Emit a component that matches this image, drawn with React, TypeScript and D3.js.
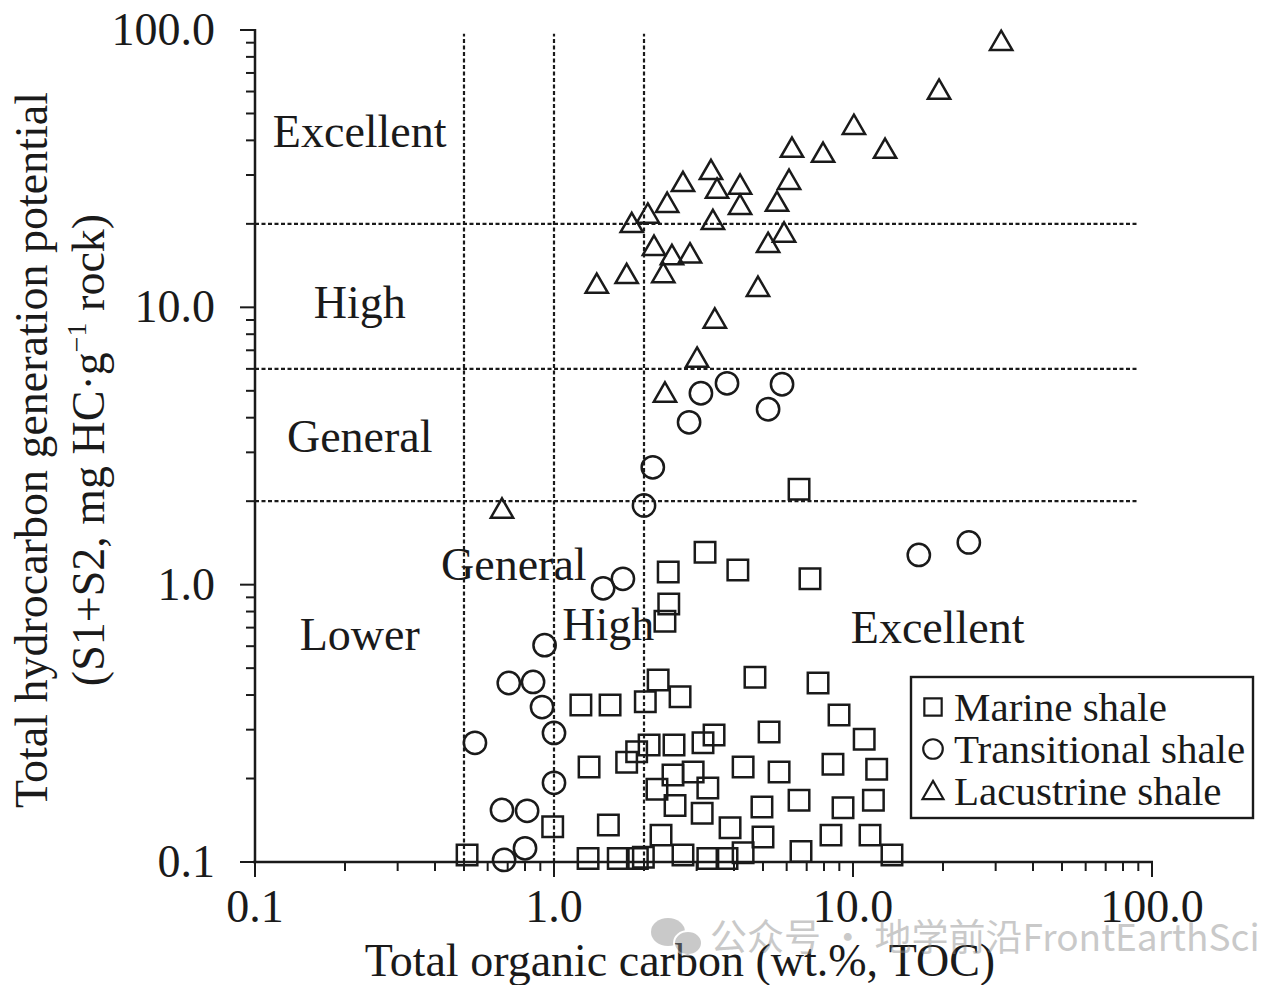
import React from 'react';
import * as d3 from 'd3';

const W = 1264;
const H = 985;
const serif = '"Liberation Serif", "Times New Roman", serif';

// [TOC wt.%, S1+S2 mg HC/g rock]
const marine = [
  [6.6, 2.21], [3.2, 1.31], [2.41, 1.11], [4.12, 1.13], [7.18, 1.05],
  [2.42, 0.851], [2.35, 0.738], [2.23, 0.453], [2.64, 0.394], [2.02, 0.378],
  [4.7, 0.464], [7.64, 0.442], [8.98, 0.339], [5.24, 0.294], [3.43, 0.287],
  [10.9, 0.277], [2.08, 0.264], [2.52, 0.264], [3.15, 0.269], [2.92, 0.211],
  [2.5, 0.206], [4.29, 0.22], [5.66, 0.211], [8.57, 0.225], [12.0, 0.216],
  [2.21, 0.183], [3.27, 0.185], [2.54, 0.16], [3.13, 0.15], [4.96, 0.158],
  [6.6, 0.167], [9.26, 0.157], [11.7, 0.167], [3.88, 0.133], [5.0, 0.123],
  [8.44, 0.125], [11.4, 0.125], [2.28, 0.125], [2.7, 0.106], [3.27, 0.103],
  [3.79, 0.103], [4.29, 0.108], [6.7, 0.109], [13.5, 0.106], [1.99, 0.104],
  [1.23, 0.368], [1.54, 0.368], [1.31, 0.22], [1.75, 0.229], [1.89, 0.25],
  [0.99, 0.134], [1.52, 0.136], [0.512, 0.106], [1.3, 0.103], [1.64, 0.103],
  [1.9, 0.103],
];

const transitional = [
  [3.1, 4.9], [3.79, 5.32], [5.79, 5.28], [5.2, 4.29], [2.83, 3.85],
  [2.14, 2.65], [2.0, 1.93], [16.6, 1.28], [24.4, 1.42], [1.46, 0.97],
  [1.7, 1.05], [0.93, 0.605], [0.706, 0.442], [0.851, 0.446], [0.912, 0.362],
  [1.0, 0.292], [0.544, 0.269], [1.0, 0.193], [0.67, 0.154], [0.813, 0.153],
  [0.8, 0.112], [0.681, 0.1017],
];

const lacustrine = [
  [31.3, 89.4], [19.4, 59.6], [10.07, 44.5], [6.25, 36.8], [7.94, 35.3],
  [12.8, 36.5], [3.35, 30.6], [2.7, 27.7], [3.51, 26.2], [4.19, 27.1],
  [6.11, 28.2], [2.39, 23.3], [4.19, 22.9], [5.57, 23.5], [2.06, 21.3],
  [1.82, 19.7], [3.4, 20.2], [5.88, 18.2], [5.2, 16.7], [2.16, 16.3],
  [2.48, 15.1], [2.85, 15.3], [2.32, 13.0], [1.75, 12.9], [1.39, 11.9],
  [4.81, 11.6], [3.45, 8.91], [3.01, 6.44], [2.35, 4.82], [0.67, 1.84],
];

const tocCuts = [0.5, 1.0, 2.0];
const s12Cuts = [2, 6, 20];
const majorValues = [0.1, 1, 10, 100];
const xTickLabels = ['0.1', '1.0', '10.0', '100.0'];
const yTickLabels = ['0.1', '1.0', '10.0', '100.0'];

const zoneLabels = [
  { text: 'Excellent', toc: 0.224, s: 38.0 },
  { text: 'High', toc: 0.224, s: 9.12 },
  { text: 'General', toc: 0.224, s: 3.0 },
  { text: 'Lower', toc: 0.224, s: 0.581 },
  { text: 'General', toc: 0.734, s: 1.04 },
  { text: 'High', toc: 1.52, s: 0.631 },
  { text: 'Excellent', toc: 19.2, s: 0.615 },
];

const legendItems = ['Marine shale', 'Transitional shale', 'Lacustrine shale'];

export default function App() {
  const x = d3.scaleLog().domain([0.1, 100]).range([255, 1152]);
  const y = d3.scaleLog().domain([0.1, 100]).range([862, 30]);

  const isMajor = (t: number) => Math.abs(Math.log10(t) - Math.round(Math.log10(t))) < 1e-9;

  const sq = d3.symbol().type(d3.symbolSquare).size(420)();
  const circ = d3.symbol().type(d3.symbolCircle).size(390)();
  const tri = d3.symbol().type(d3.symbolTriangle).size(215)();
  const sqL = d3.symbol().type(d3.symbolSquare).size(300)();
  const circL = d3.symbol().type(d3.symbolCircle).size(300)();
  const triL = d3.symbol().type(d3.symbolTriangle).size(190)();

  const ink = '#1a1a1a';
  const dash = '4 2.5';

  const series = [
    { data: marine, path: sq },
    { data: transitional, path: circ },
    { data: lacustrine, path: tri },
  ];
  const legendPaths = [sqL, circL, triL];

  return (
    <svg width={W} height={H} style={{ position: 'absolute', left: 0, top: 0, background: '#fff' }}
      fontFamily={serif}>
      {/* guide lines */}
      {tocCuts.map((c) => (
        <line key={'v' + c} x1={x(c)} x2={x(c)} y1={y(0.1)} y2={y(97)}
          stroke={ink} strokeWidth={2.2} strokeDasharray={dash} />
      ))}
      {s12Cuts.map((c) => (
        <line key={'h' + c} x1={x(0.1)} x2={x(90)} y1={y(c)} y2={y(c)}
          stroke={ink} strokeWidth={2.2} strokeDasharray={dash} />
      ))}

      {/* zone labels */}
      {zoneLabels.map((z, i) => (
        <text key={i} x={x(z.toc)} y={y(z.s)} textAnchor="middle" fontSize={46} fill={ink}>{z.text}</text>
      ))}

      {/* points */}
      {series.map((s, si) => (
        <g key={si}>
          {s.data.map((d, i) => (
            <path key={i} d={s.path as string} transform={`translate(${x(d[0])},${y(d[1])})`}
              fill="none" stroke={ink} strokeWidth={2.5} />
          ))}
        </g>
      ))}

      {/* axes */}
      <line x1={x(0.1) - 2} x2={x(100) + 1} y1={y(0.1)} y2={y(0.1)} stroke={ink} strokeWidth={2.5} />
      <line x1={x(0.1)} x2={x(0.1)} y1={y(0.1) + 1} y2={y(100) - 1} stroke={ink} strokeWidth={2.5} />
      {x.ticks().map((t, i) => (
        <line key={'xt' + i} x1={x(t)} x2={x(t)} y1={y(0.1)} y2={y(0.1) + (isMajor(t) ? 15 : 9)}
          stroke={ink} strokeWidth={2} />
      ))}
      {y.ticks().map((t, i) => (
        <line key={'yt' + i} y1={y(t)} y2={y(t)} x1={x(0.1)} x2={x(0.1) - (isMajor(t) ? 15 : 9)}
          stroke={ink} strokeWidth={2} />
      ))}
      {majorValues.map((v, i) => (
        <text key={'xl' + i} x={x(v)} y={y(0.1) + 60} textAnchor="middle" fontSize={46} fill={ink}>{xTickLabels[i]}</text>
      ))}
      {majorValues.map((v, i) => (
        <text key={'yl' + i} x={x(0.1) - 40} y={y(v) + 15} textAnchor="end" fontSize={46} fill={ink}>{yTickLabels[i]}</text>
      ))}

      {/* axis titles */}
      <text x={680} y={976} textAnchor="middle" fontSize={46} fill={ink}>Total organic carbon (wt.%, TOC)</text>
      <text transform="translate(47,450) rotate(-90)" textAnchor="middle" fontSize={46} fill={ink}>
        Total hydrocarbon generation potential
      </text>
      <text transform="translate(104,450) rotate(-90)" textAnchor="middle" fontSize={46} fill={ink}>
        (S1+S2, mg HC·g<tspan fontSize={28} dy={-18}>−1</tspan><tspan dy={18}> rock)</tspan>
      </text>

      {/* legend */}
      <rect x={911} y={677} width={342} height={141} fill="#fff" stroke={ink} strokeWidth={2.4} />
      {legendItems.map((t, i) => (
        <g key={t} transform={`translate(933,${707 + i * 42})`}>
          <path d={legendPaths[i] as string} fill="none" stroke={ink} strokeWidth={2.2} transform={i === 2 ? 'translate(0,2)' : undefined} />
          <text x={21} y={14} fontSize={41} fill={ink}>{t}</text>
        </g>
      ))}

      {/* watermark */}
      <g opacity={0.45} fill="#8a8a8a">
        <ellipse cx={668} cy={932} rx={17} ry={14} />
        <ellipse cx={688} cy={943} rx={14} ry={12} stroke="#fff" strokeWidth={2} />
        <text x={710} y={951} fontSize={37} fontFamily='"Noto Sans CJK SC", "Noto Sans", sans-serif'>公众号 · 地学前沿FrontEarthSci</text>
      </g>
    </svg>
  );
}
